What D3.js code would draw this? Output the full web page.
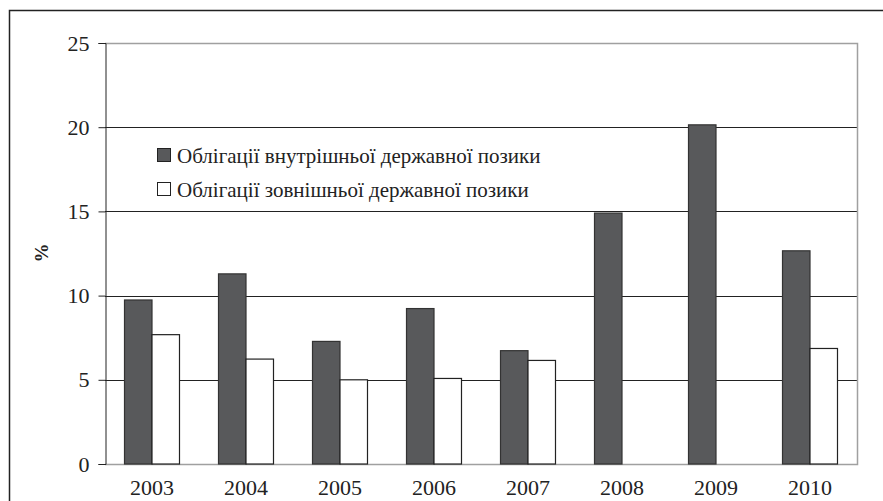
<!DOCTYPE html>
<html lang="uk">
  <head>
    <meta charset="UTF-8" />
    <script src="https://cdn.jsdelivr.net/npm/d3@7"></script>
    <style>
      * {
        margin: 0;
        padding: 0;
      }
      body {
        background: #fff;
      }
      svg {
        display: block;
      }
      svg text {
        font-family: 'Liberation Serif', 'DejaVu Serif', 'Times New Roman', serif;
      }
    </style>
    <title>Chart</title>
  </head>
  <body>
    <div id="container"></div>
  </body>
  <script>
    const years = ['2003', '2004', '2005', '2006', '2007', '2008', '2009', '2010'];
    const seriesNames = [
      'Облігації внутрішньої державної позики',
      'Облігації зовнішньої державної позики',
    ];
    const internalBonds = [9.74, 11.29, 7.28, 9.23, 6.73, 14.9, 20.14, 12.66];
    const externalBonds = [7.68, 6.23, 5.0, 5.08, 6.15, null, null, 6.86];
    const yTicks = [0, 5, 10, 15, 20, 25];

    const width = 883;
    const height = 501;
    const margin = { top: 43, right: 26, bottom: 37, left: 105 };
    const colors = ['#58595b', '#ffffff'];

    const rows = years.map((y, i) => ({
      year: y,
      values: [internalBonds[i], externalBonds[i]],
    }));

    const svg = d3
      .select('#container')
      .append('svg')
      .attr('width', width)
      .attr('height', height);

    // outer frame
    svg
      .append('rect')
      .attr('x', 9.5)
      .attr('y', 10.5)
      .attr('width', width)
      .attr('height', height)
      .attr('fill', 'none')
      .attr('stroke', '#222')
      .attr('stroke-width', 1.5);

    const x0 = d3
      .scaleBand()
      .domain(years)
      .range([margin.left, width - margin.right])
      .paddingInner(0.415)
      .paddingOuter(0.2075);

    const x1 = d3
      .scaleBand()
      .domain([0, 1])
      .range([0, x0.bandwidth()]);

    const y = d3
      .scaleLinear()
      .domain([0, 25])
      .range([height - margin.bottom, margin.top]);

    // gridlines
    svg
      .append('g')
      .selectAll('line')
      .data(yTicks.filter((d) => d > 0 && d < 25))
      .join('line')
      .attr('x1', margin.left)
      .attr('x2', width - margin.right)
      .attr('y1', (d) => Math.round(y(d)) + 0.5)
      .attr('y2', (d) => Math.round(y(d)) + 0.5)
      .attr('stroke', '#222')
      .attr('stroke-width', 1);

    // plot border (top + right + bottom, gray)
    svg
      .append('path')
      .attr(
        'd',
        `M${margin.left},${Math.round(y(25)) + 0.5}H${width - margin.right + 0.5}V${
          Math.round(y(0)) + 0.5
        }H${margin.left}`
      )
      .attr('fill', 'none')
      .attr('stroke', '#a0a0a0')
      .attr('stroke-width', 1.5);

    // bars
    svg
      .append('g')
      .selectAll('g')
      .data(rows)
      .join('g')
      .attr('transform', (d) => `translate(${x0(d.year)},0)`)
      .selectAll('rect')
      .data((d) => d.values.map((v, k) => ({ v, k })).filter((e) => e.v != null))
      .join('rect')
      .attr('x', (d) => x1(d.k))
      .attr('y', (d) => y(d.v))
      .attr('width', x1.bandwidth())
      .attr('height', (d) => y(0) - y(d.v))
      .attr('fill', (d) => colors[d.k])
      .attr('stroke', (d) => (d.k === 0 ? '#333' : '#222'))
      .attr('stroke-width', 1.2);

    // y axis
    const yAxis = svg
      .append('g')
      .attr('transform', `translate(${margin.left + 0.5},0)`)
      .call(d3.axisLeft(y).tickValues(yTicks).tickSize(7).tickPadding(9));
    yAxis.select('.domain').attr('stroke', '#222');
    yAxis.selectAll('.tick line').attr('stroke', '#222');
    yAxis
      .selectAll('.tick text')
      .attr('font-family', null)
      .attr('font-size', 22)
      .attr('fill', '#222');

    // x axis labels
    svg
      .append('g')
      .selectAll('text')
      .data(years)
      .join('text')
      .attr('x', (d) => x0(d) + x0.bandwidth() / 2)
      .attr('y', height - 6)
      .attr('text-anchor', 'middle')
      .attr('font-size', 22)
      .attr('fill', '#222')
      .text((d) => d);

    // y title
    svg
      .append('text')
      .attr('transform', `translate(48,253) rotate(-90)`)
      .attr('text-anchor', 'middle')
      .attr('font-size', 19)
      .attr('font-weight', 'bold')
      .attr('fill', '#222')
      .text('%');

    // legend
    const legend = svg
      .append('g')
      .selectAll('g')
      .data(seriesNames)
      .join('g')
      .attr('transform', (d, i) => `translate(157,${148 + i * 34})`);
    legend
      .append('rect')
      .attr('x', 0.5)
      .attr('y', 0.5)
      .attr('width', 13)
      .attr('height', 13)
      .attr('fill', (d, i) => colors[i])
      .attr('stroke', '#222')
      .attr('stroke-width', 1);
    legend
      .append('text')
      .attr('x', 20)
      .attr('y', 14.5)
      .attr('font-size', 21)
      .attr('fill', '#222')
      .text((d) => d);
  </script>
</html>
